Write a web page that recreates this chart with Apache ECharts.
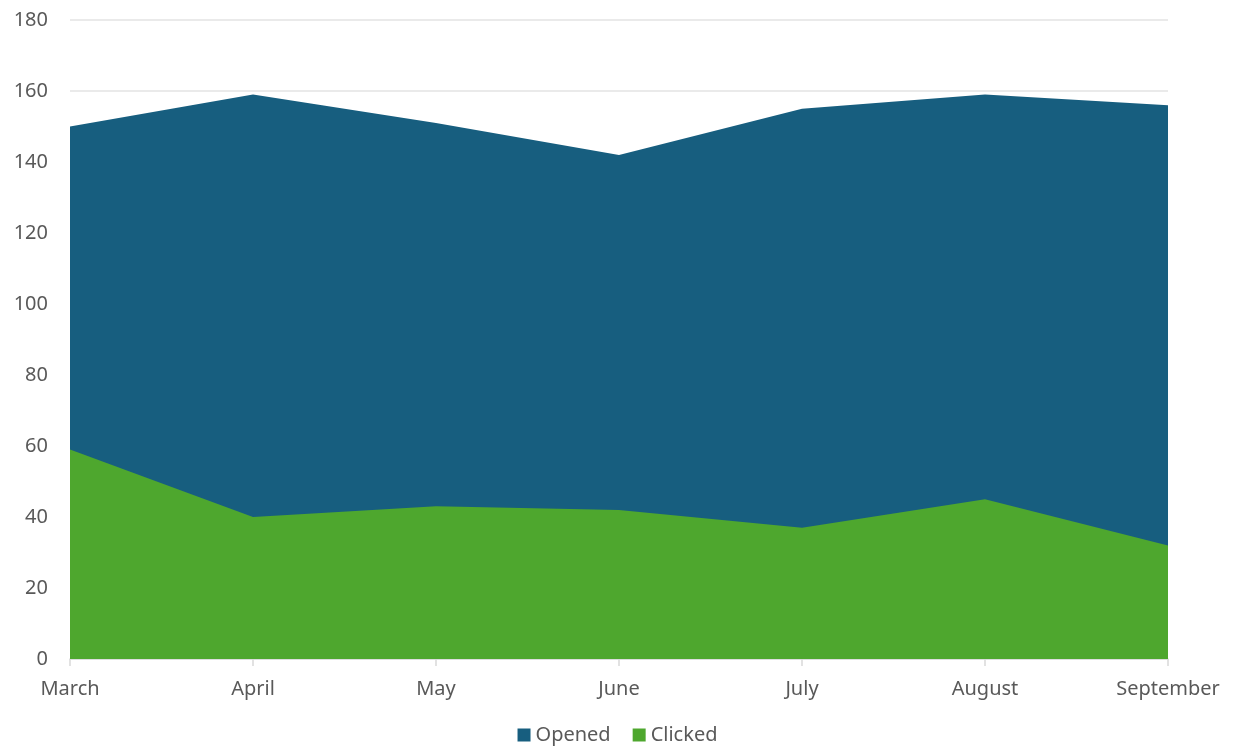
<!DOCTYPE html>
<html>
<head>
<meta charset="utf-8">
<script src="https://cdn.jsdelivr.net/npm/echarts@6/dist/echarts.min.js"></script>
<style>html,body{margin:0;padding:0;background:#fff}#c{width:1235px;height:746px}</style>
</head>
<body>
<div id="c"></div>
<script>
const categories = ['March','April','May','June','July','August','September'];
const opened = [150, 159, 151, 142, 155, 159, 156];
const clicked = [59, 40, 43, 42, 37, 45, 32];
const yTicks = {min: 0, max: 180, interval: 20};

const chart = echarts.init(document.getElementById('c'), null, {renderer: 'canvas'});
const font = '"Noto Sans", "Open Sans", sans-serif';
chart.setOption({
  animation: false,
  textStyle: {fontFamily: font},
  grid: {left: 70, right: 67, top: 20, bottom: 87, containLabel: false},
  legend: {
    bottom: 1, left: 'center', padding: 0, itemWidth: 13, itemHeight: 13, itemGap: 22,
    icon: 'rect',
    textStyle: {fontSize: 20, color: '#595959', fontFamily: font},
    data: ['Opened', 'Clicked']
  },
  xAxis: {
    type: 'category', data: categories, boundaryGap: false,
    axisLine: {lineStyle: {color: '#d9d9d9', width: 1.5}},
    axisTick: {show: true, length: 7, lineStyle: {color: '#d9d9d9', width: 1.5}},
    axisLabel: {color: '#595959', fontSize: 20, margin: 20, fontFamily: font},
    splitLine: {show: false}
  },
  yAxis: {
    type: 'value', min: yTicks.min, max: yTicks.max, interval: yTicks.interval,
    axisLine: {show: false}, axisTick: {show: false},
    axisLabel: {color: '#595959', fontSize: 20, margin: 22, fontFamily: font},
    splitLine: {lineStyle: {color: '#e3e3e3', width: 1.5}}
  },
  series: [
    {name: 'Opened', type: 'line', data: opened, symbol: 'none',
     lineStyle: {width: 0}, itemStyle: {color: '#175E7F'},
     areaStyle: {color: '#175E7F', opacity: 1}},
    {name: 'Clicked', type: 'line', data: clicked, symbol: 'none',
     lineStyle: {width: 0}, itemStyle: {color: '#4EA72E'},
     areaStyle: {color: '#4EA72E', opacity: 1}}
  ]
});
</script>
</body>
</html>
